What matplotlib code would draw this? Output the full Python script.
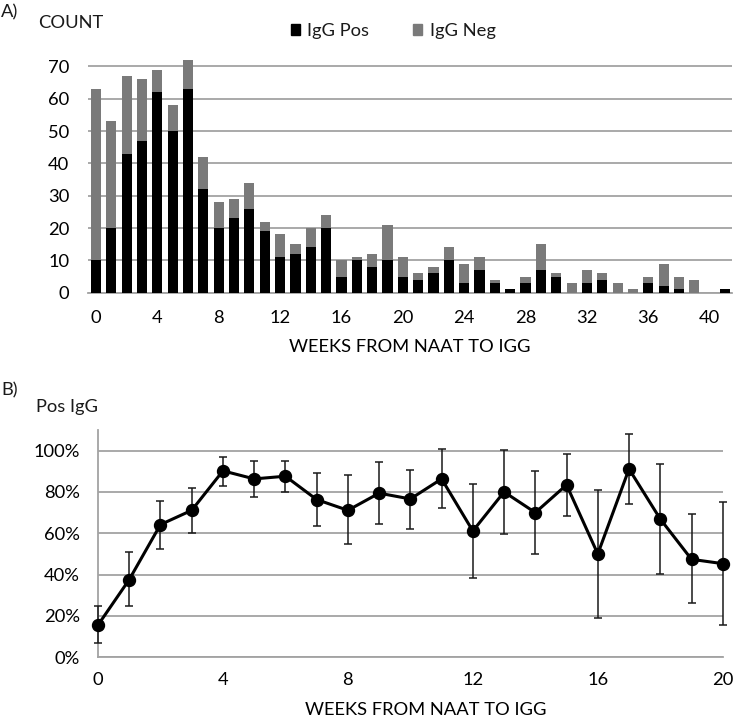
import matplotlib
matplotlib.use("Agg")
from matplotlib import pyplot as plt
from matplotlib.patches import Patch
import numpy as np

plt.rcParams["font.family"] = ["Lato", "DejaVu Sans"]
plt.rcParams["font.size"] = 13.2
plt.rcParams["text.color"] = "#1a1a1a"

# A) counts per week (0..41)
weeks = list(range(42))
igg_pos = [10, 20, 43, 47, 62, 50, 63, 32, 20, 23, 26, 19, 11, 12, 14, 20, 5, 10, 8, 10, 5,
           4, 6, 10, 3, 7, 3, 1, 3, 7, 5, 0, 3, 4, 0, 0, 3, 2, 1, 0, 0, 1]
igg_total = [63, 53, 67, 66, 69, 58, 72, 42, 28, 29, 34, 22, 18, 15, 20, 24, 10, 11, 12, 21, 11,
             6, 8, 14, 9, 11, 4, 1, 5, 15, 6, 3, 7, 6, 3, 1, 5, 9, 5, 4, 0, 1]
igg_neg = [t - p for t, p in zip(igg_total, igg_pos)]

# B) proportion positive with asymmetric CI (weeks 0..20)
weeks_b = list(range(21))
pct_pos = [0.156, 0.376, 0.642, 0.711, 0.902, 0.863, 0.876, 0.763, 0.711, 0.794, 0.766,
           0.863, 0.611, 0.800, 0.700, 0.834, 0.500, 0.911, 0.669, 0.474, 0.453]
ci_high = [0.247, 0.508, 0.756, 0.821, 0.969, 0.950, 0.950, 0.892, 0.882, 0.944, 0.906,
           1.008, 0.837, 1.002, 0.903, 0.985, 0.811, 1.081, 0.935, 0.692, 0.750]
ci_low = [0.068, 0.247, 0.524, 0.602, 0.829, 0.774, 0.798, 0.634, 0.547, 0.644, 0.623,
          0.723, 0.384, 0.597, 0.498, 0.685, 0.189, 0.740, 0.402, 0.261, 0.158]

grid_c = "#a3a3a3"
pos_c = "#000000"
neg_c = "#7a7a7a"

fig = plt.figure(figsize=(7.33, 7.2), dpi=100)

# ---- panel A ----
ax1 = fig.add_axes([0.1201, 0.5935, 0.8786, 0.3256])
ax1.bar(weeks, igg_pos, width=0.66, color=pos_c, zorder=3)
ax1.bar(weeks, igg_neg, width=0.66, bottom=igg_pos, color=neg_c, zorder=3)
ax1.set_xlim(-0.52, 41.46)
ax1.set_ylim(0, 72.5)
ax1.set_yticks(range(0, 71, 10))
ax1.set_xticks(range(0, 41, 4))
ax1.yaxis.grid(True, color=grid_c, lw=1.3, zorder=0)
ax1.set_axisbelow(True)
for s in ["top", "right", "left"]:
    ax1.spines[s].set_visible(False)
ax1.spines["bottom"].set_color(grid_c)
ax1.spines["bottom"].set_linewidth(1.3)
ax1.tick_params(axis="both", length=0)
ax1.tick_params(axis="y", pad=13.5)
ax1.tick_params(axis="x", pad=12.3)
ax1.set_xlabel("WEEKS FROM NAAT TO IGG")
ax1.xaxis.set_label_coords(0.5, -0.23)
ax1.xaxis.label.set_va("center")

handles = [Patch(color=pos_c), Patch(color=neg_c)]
fig.legend(handles, ["IgG Pos", "IgG Neg"], ncol=2, loc="center",
           bbox_to_anchor=(393 / 733, 1 - 31 / 720), frameon=False,
           handlelength=0.5, handleheight=0.5, handletextpad=0.4,
           columnspacing=2.4)

fig.text(1 / 733, 1 - 12 / 720, "A)", ha="left", va="center")
fig.text(71 / 733, 1 - 23 / 720, "COUNT", ha="center", va="center")

# ---- panel B ----
ax2 = fig.add_axes([0.1337, 0.0871, 0.8523, 0.3158])
err = [np.array(pct_pos) - np.array(ci_low), np.array(ci_high) - np.array(pct_pos)]
ax2.errorbar(weeks_b, pct_pos, yerr=err, color="black", lw=2.2, marker="o",
             markersize=8.6, ecolor="#1a1a1a", elinewidth=1.1, capsize=3,
             capthick=1.1, zorder=3, clip_on=False)
ax2.set_xlim(0, 20)
ax2.set_ylim(0, 1.1)
ax2.set_yticks(np.arange(0, 1.01, 0.2))
ax2.set_yticklabels([f"{int(round(v * 100))}%" for v in np.arange(0, 1.01, 0.2)])
ax2.set_xticks(range(0, 21, 4))
ax2.yaxis.grid(True, color=grid_c, lw=1.3, zorder=0)
ax2.set_axisbelow(True)
for s in ["top", "right"]:
    ax2.spines[s].set_visible(False)
for s in ["left", "bottom"]:
    ax2.spines[s].set_color(grid_c)
    ax2.spines[s].set_linewidth(1.3)
ax2.tick_params(axis="both", length=0)
ax2.tick_params(axis="y", pad=13.0)
ax2.tick_params(axis="x", pad=10.6)
ax2.set_xlabel("WEEKS FROM NAAT TO IGG")
ax2.xaxis.set_label_coords(0.524, -0.232)
ax2.xaxis.label.set_va("center")

fig.text(1 / 733, 1 - 390 / 720, "B)", ha="left", va="center")
fig.text(67.5 / 733, 1 - 407 / 720, "Pos IgG", ha="center", va="center")

fig.savefig("out.png", dpi=100)
